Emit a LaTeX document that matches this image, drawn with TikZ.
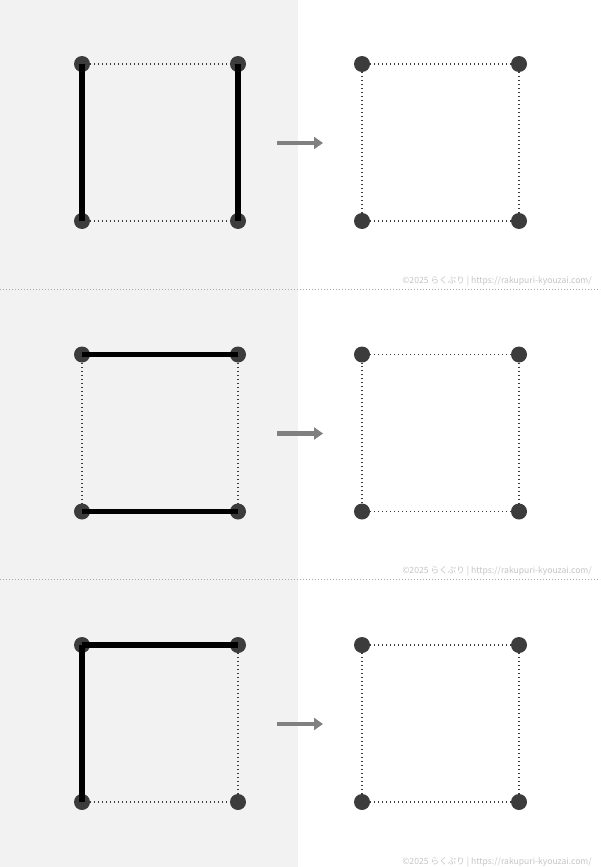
\documentclass[tikz,border=0pt]{standalone}
\usepackage{fontspec}
\newfontfamily\jpfont{Noto Sans CJK JP}
\usetikzlibrary{arrows.meta}
\usetikzlibrary{positioning}
\definecolor{panelgray}{HTML}{F2F2F2}
\definecolor{dotgray}{HTML}{3C3C3C}
\definecolor{creditgray}{HTML}{C4C4C4}
\tikzset{pt/.style = {fill=dotgray, circle, inner sep = 0, minimum size = 16}}
\tikzset{edge/.style = {dotgray, line width = 1.2, dash pattern = on 1.2pt off 2.8pt}}
\tikzset{stick/.style = {black, line width = 5.5}}
\tikzset{push/.style = {gray, line width = 4.5, -{Triangle[length = 9pt, width = 12pt]}}}
\tikzset{sep/.style = {gray!70, line width = 0.9, dash pattern = on 1pt off 2pt}}
\tikzset{credit/.style = {creditgray, anchor = east, inner sep = 0, font = \jpfont\fontsize{8.6}{10}\selectfont}}

\begin{document}
\begin{tikzpicture}[x=1pt, y=-1pt]
    \fill [panelgray] (0, 0) rectangle (298, 867);
    \useasboundingbox (0, 0) rectangle (600, 867);

    \foreach \y/\n/\thick/\thin in {64/1/{tl/bl,tr/br}/{tl/tr,bl/br},
                                  354.5/2/{tl/tr,bl/br}/{tl/bl,tr/br},
                                  645/3/{tl/tr,tl/bl}/{tr/br,bl/br}} {
        % left square
        \node [pt] (tl\n) at (82, \y) {};
        \node [pt] (tr\n) at (238, \y) {};
        \node [pt] (bl\n) at (82, \y+157) {};
        \node [pt] (br\n) at (238, \y+157) {};

        % right square
        \node [pt] (rtl\n) at (362, \y) {};
        \node [pt] (rtr\n) at (519, \y) {};
        \node [pt] (rbl\n) at (362, \y+157) {};
        \node [pt] (rbr\n) at (519, \y+157) {};

        \foreach \a/\b in \thin
            \draw [edge] (\a\n) -- (\b\n);
        \foreach \a/\b in {tl/tr, tr/br, br/bl, bl/tl}
            \draw [edge] (r\a\n) -- (r\b\n);
        \foreach \a/\b in \thick
            \draw [stick] (\a\n.center) -- (\b\n.center);

        \coordinate (from\n) at (277, \y+79);
        \coordinate (to\n) at (323, \y+79);
        \draw [push] (from\n) -- (to\n);

        \node [credit] (credit\n) at (592, \y+217) {©2025 らくぷり | https://rakupuri-kyouzai.com/};

        \ifnum\n<3
            \coordinate (sepl\n) at (0, \y+225);
            \coordinate (sepr\n) at (600, \y+225);
            \draw [sep] (sepl\n) -- (sepr\n);
        \fi
    }
\end{tikzpicture}
\end{document}
